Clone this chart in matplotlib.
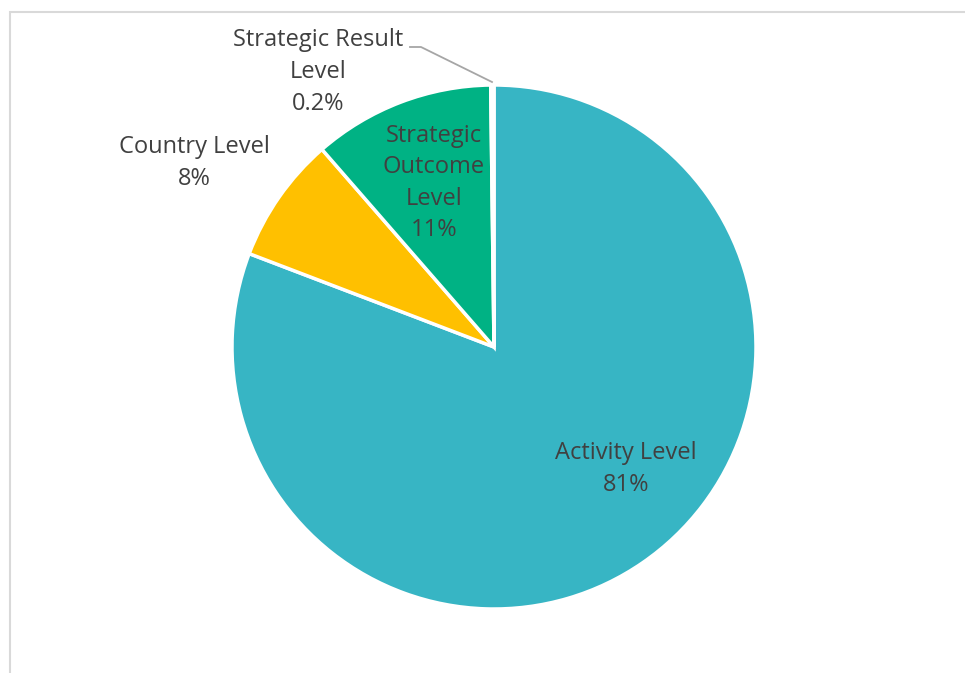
import matplotlib.pyplot as plt
from matplotlib.patches import Rectangle

# share of results by level
levels = ["Activity Level", "Country Level", "Strategic\nOutcome\nLevel", "Strategic Result\nLevel"]
shares = [80.8, 7.8, 11.2, 0.2]
colors = ["#37B5C4", "#FFC000", "#00B284", "#A5A5A5"]

W, H = 965, 673


def fmt(v):
    return f"{v:.1f}%" if v < 1 else f"{v:.0f}%"


plt.rcParams['font.family'] = ['Open Sans', 'DejaVu Sans']

fig = plt.figure(figsize=(W / 100, H / 100), dpi=100)
ax = fig.add_axes([0, 0, 1, 1])

# chart area border (right and bottom run off the canvas)
ax.add_patch(Rectangle((10, -20), W + 20, H - 12 + 20, fill=False,
                       edgecolor="#D9D9D9", linewidth=1.5))

cx, cy, r = 494, H - 347, 262
ax.pie(shares, colors=colors, startangle=90, counterclock=False,
       center=(cx, cy), radius=r, frame=True,
       wedgeprops=dict(edgecolor="white", linewidth=2.5))
ax.set_xlim(0, W)
ax.set_ylim(0, H)
ax.axis("off")

# label positions (pixels from top-left)
label_pos = [(626, 469), (194, 163), (434, 183), (318, 72)]
txt_color = "#404040"
for name, v, (x, y) in zip(levels, shares, label_pos):
    ax.text(x, H - y, name + "\n" + fmt(v), ha="center", va="center",
            fontsize=17, color=txt_color, linespacing=1.42)

# leader line for the tiny slice
ax.plot([410, 421, 492], [H - 47, H - 47, H - 82], color="#A6A6A6", linewidth=1.3)

fig.savefig("out.png", dpi=100)
